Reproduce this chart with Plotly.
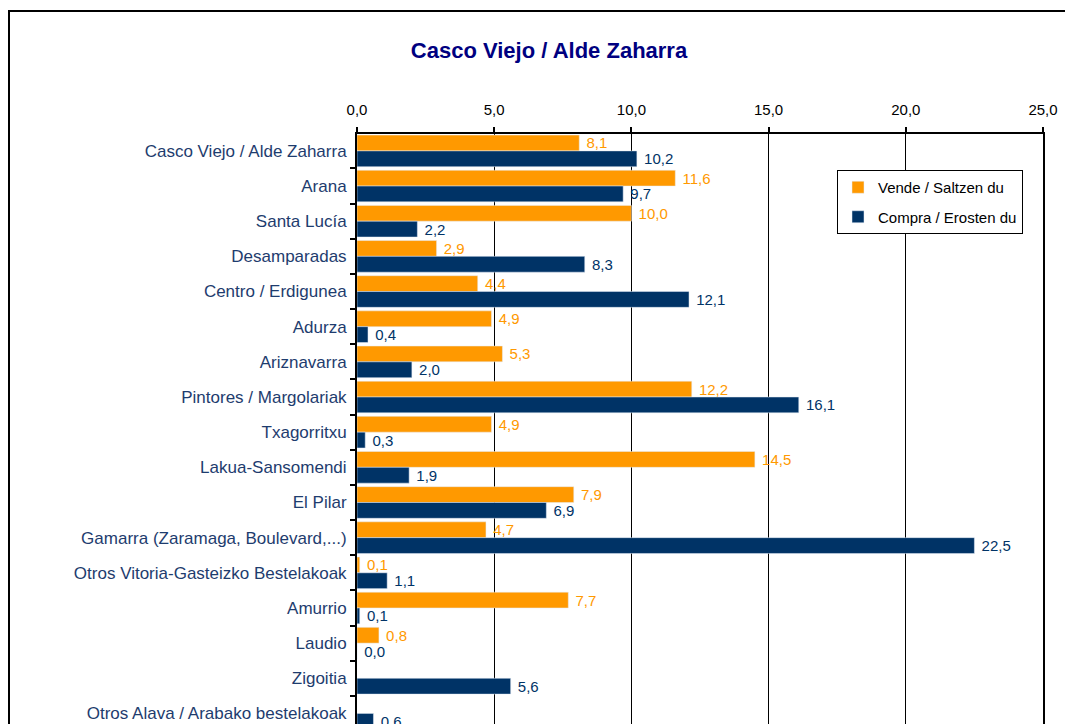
import plotly.graph_objects as go

# Data

barrios = [
    "Casco Viejo / Alde Zaharra", "Arana", "Santa Lucía", "Desamparadas",
    "Centro / Erdigunea", "Adurza", "Ariznavarra", "Pintores / Margolariak",
    "Txagorritxu", "Lakua-Sansomendi", "El Pilar", "Gamarra (Zaramaga, Boulevard,...)",
    "Otros Vitoria-Gasteizko Bestelakoak", "Amurrio", "Laudio", "Zigoitia",
    "Otros Alava / Arabako bestelakoak",
]
vende = [8.1, 11.6, 10.0, 2.9, 4.4, 4.9, 5.3, 12.2, 4.9, 14.5, 7.9, 4.7, 0.1, 7.7, 0.8, None, None]
compra = [10.2, 9.7, 2.2, 8.3, 12.1, 0.4, 2.0, 16.1, 0.3, 1.9, 6.9, 22.5, 1.1, 0.1, 0.0, 5.6, 0.6]
x_ticks = [0, 5, 10, 15, 20, 25]

ORANGE = "#FF9900"
NAVY = "#003366"
FONT = "Liberation Sans, Arial, sans-serif"

# page has an 8px body margin, so the figure is drawn 8px smaller
W, H = 1065, 716
L, R, T = 349, 30, 126
PW, PH = W - L - R, H - T

fig = go.Figure()

fig.add_trace(go.Bar(
    y=barrios, x=vende, orientation="h", name="Vende / Saltzen du",
    marker_color=ORANGE, legendgroup="v",
    texttemplate=" %{x:.1f}", textposition="outside", constraintext="none",
    textfont=dict(color=ORANGE, size=15, family=FONT), cliponaxis=False,
))
fig.add_trace(go.Bar(
    y=barrios, x=compra, orientation="h", name="Compra / Erosten du",
    marker_color=NAVY, legendgroup="c",
    texttemplate=" %{x:.1f}", textposition="outside", constraintext="none",
    textfont=dict(color=NAVY, size=15, family=FONT), cliponaxis=False,
))

# border around the whole chart (bottom and right are cut off like the original)
fig.add_shape(type="rect", xref="paper", yref="paper",
              x0=(1 - L) / PW, x1=(W + 20 - L) / PW,
              y0=-0.2, y1=(H - 3) / PH,
              line=dict(color="black", width=2), layer="above")

fig.update_layout(
    width=W, height=H,
    margin=dict(l=L, r=R, t=T, b=0),
    paper_bgcolor="white", plot_bgcolor="white",
    font=dict(family=FONT, size=15, color="black"),
    title=dict(text="<b>Casco Viejo / Alde Zaharra</b>", x=541 / W, xanchor="center",
               y=1 - 42 / H, yanchor="middle",
               font=dict(size=22, color="#000080", family=FONT)),
    barmode="group", bargap=0.1, bargroupgap=0,
    showlegend=True,
    legend=dict(x=(829 - L) / PW, y=(H - 162) / PH, xanchor="left", yanchor="top",
                bordercolor="black", borderwidth=1, bgcolor="white",
                font=dict(size=15, color="black", family=FONT),
                itemwidth=30,
                traceorder="grouped", tracegroupgap=7),
    xaxis=dict(side="top", range=[0, 25], tickvals=x_ticks, tickformat=".1f",
               showgrid=True, gridcolor="black", gridwidth=1,
               showline=True, linecolor="black", linewidth=2,
               ticks="outside", ticklen=5, tickcolor="black", tickwidth=2,
               ticklabelstandoff=6, zeroline=False,
               tickfont=dict(size=15, color="black")),
    yaxis=dict(range=[16.3, -0.48], showline=True, linecolor="black", linewidth=2,
               mirror=True, ticks="outside", tickson="boundaries", ticklen=5,
               tickcolor="black", tickwidth=2, showgrid=False,
               ticklabelstandoff=5,
               tickfont=dict(size=17, color="#1E3C6E")),
    separators=",.",
)

fig.write_html("out.html")
